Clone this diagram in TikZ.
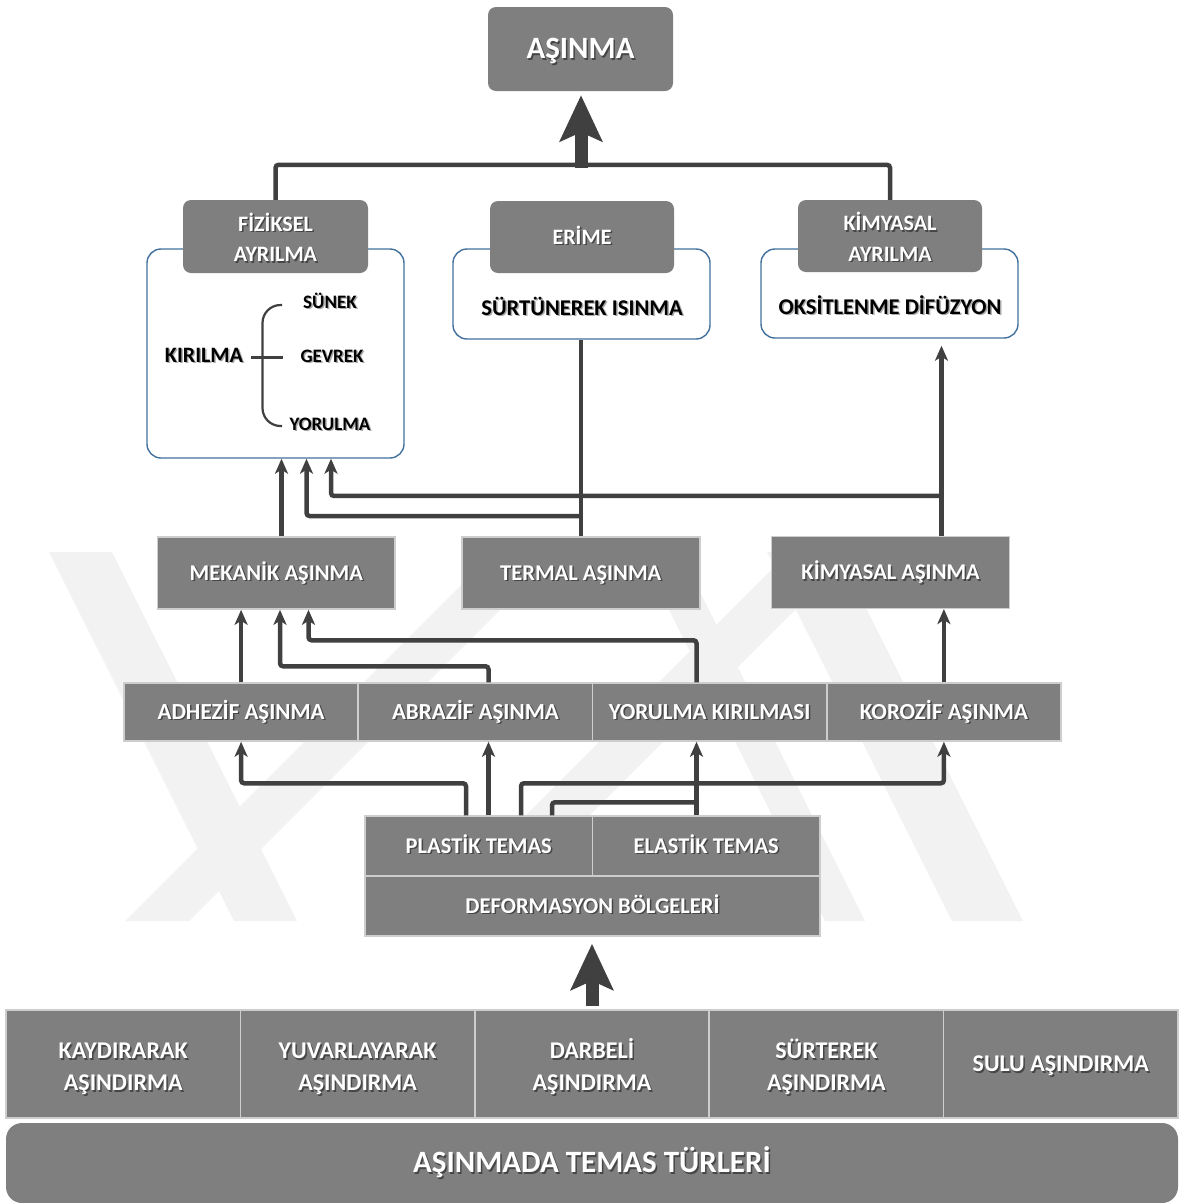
\documentclass[tikz,border=0pt]{standalone}
\usepackage{fontspec}
\setmainfont{Carlito}
\usetikzlibrary{arrows.meta,calc}

\definecolor{boxgray}{RGB}{127,127,127}
\definecolor{linegray}{RGB}{64,64,64}
\definecolor{edgegray}{RGB}{205,205,205}
\definecolor{bordblue}{RGB}{65,113,156}
\definecolor{wmgray}{RGB}{242,242,242}
\definecolor{wshadow}{RGB}{70,70,70}
\definecolor{bshadow}{RGB}{170,170,170}

% bold text at a given size and leading
\newcommand\fs[2]{\bfseries\fontsize{#1}{#2}\selectfont}
% one line of text with a small drop shadow; the line counts only its cap height
\newcommand\wsh[1]{\rule{0pt}{0.644em}\smash{\rlap{\hspace{1.5pt}\raisebox{-1.5pt}{\textcolor{wshadow}{#1}}}#1}}
\newcommand\bsh[1]{\rule{0pt}{0.644em}\smash{\rlap{\hspace{1.5pt}\raisebox{-1.5pt}{\textcolor{bshadow}{#1}}}#1}}
% first line of a two-line label, set a little lower
\newcommand\wshT[1]{\rule{0pt}{\dimexpr0.644em+6pt\relax}\smash{\rlap{\hspace{1.5pt}\raisebox{-1.5pt}{\textcolor{wshadow}{#1}}}#1}}

\begin{document}
\begin{tikzpicture}[x=1pt,y=-1pt,
  rbox/.style={fill=boxgray, draw=none, rounded corners=8pt, text=white,
    inner sep=0pt, align=center},
  fbox/.style={fill=boxgray, draw=edgegray, line width=1.5pt, text=white,
    inner sep=0pt, align=center},
  wbox/.style={fill=white, draw=bordblue, line width=1.4pt, rounded corners=14pt},
  btxt/.style={text=black, inner sep=0pt, align=center},
  conn/.style={draw=linegray, line width=4.5pt, rounded corners=3pt},
  arr/.style={conn, -{Stealth[length=15pt,width=13pt,inset=4pt]}},
  bigarr/.style={draw=linegray, line width=13pt,
    -{Stealth[length=46pt,width=42pt,inset=9pt]}},
  brk/.style={draw=linegray, line width=2.2pt},
  wm/.style={fill=wmgray, draw=none}
]
\useasboundingbox (0,0) rectangle (1184,1203);

% faint background emblem
\fill[wm] (49,552) -- (112,552) -- (297,921) -- (234,921) -- cycle;
\fill[wm] (125,921) -- (189,921) -- (558,552) -- (494,552) -- cycle;
\fill[wm] (640,552) -- (680,552) -- (865,921) -- (825,921) -- cycle;
\fill[wm] (420,921) -- (484,921) -- (853,552) -- (789,552) -- cycle;
\fill[wm] (767,552) -- (838,552) -- (1023,921) -- (952,921) -- cycle;

% ---- top level
\node[rbox, minimum width=185pt, minimum height=84pt, font=\fs{31}{36}] (asn) at (580.5,49) {\wsh{AŞINMA}};

% white detail panels
\node[wbox, minimum width=257pt, minimum height=209pt] (wl) at (275.5,353.5) {};
\node[wbox, minimum width=257pt, minimum height=90pt] (wm) at (581.5,294) {};
\node[wbox, minimum width=257pt, minimum height=89pt] (wr) at (889.5,293.5) {};

% separation mechanisms
\node[rbox, minimum width=185pt, minimum height=73pt, font=\fs{22}{30.5}] (fiz) at (275.5,236.5) {\wshT{FİZİKSEL}\\\wsh{AYRILMA}};
\node[rbox, minimum width=184pt, minimum height=72pt, font=\fs{22}{30.5}] (eri) at (582,237) {\wsh{ERİME}};
\node[rbox, minimum width=184pt, minimum height=72pt, font=\fs{22}{30.5}] (kay) at (890,236) {\wshT{KİMYASAL}\\\wsh{AYRILMA}};

\node[btxt, font=\fs{22.5}{26}] (srt) at (582,308) {\bsh{SÜRTÜNEREK ISINMA}};
\node[btxt, font=\fs{22.5}{26}] (oks) at (890,307) {\bsh{OKSİTLENME DİFÜZYON}};

% fracture types
\node[btxt, font=\fs{22}{26}] (kir) at (204,355) {\bsh{KIRILMA}};
\node[btxt, font=\fs{19}{22}] (sun) at (330,302) {\bsh{SÜNEK}};
\node[btxt, font=\fs{19}{22}] (gev) at (332,356) {\bsh{GEVREK}};
\node[btxt, font=\fs{19}{22}] (yrl) at (330,424) {\bsh{YORULMA}};
\draw[brk, rounded corners=18pt] (282,305) -- (262.5,305) -- (262.5,426) -- (282,426);
\draw[brk] (251,357.5) -- (282.5,357.5);

% ---- wear classes
\node[fbox, minimum width=237.4pt, minimum height=72.3pt, font=\fs{22.5}{26}] (mek) at (276.3,572.9) {\wsh{MEKANİK AŞINMA}};
\node[fbox, minimum width=238pt, minimum height=72.3pt, font=\fs{22.5}{26}] (ter) at (580.75,572.9) {\wsh{TERMAL AŞINMA}};
\node[fbox, minimum width=238pt, minimum height=71.6pt, font=\fs{22.5}{26}] (kma) at (890.65,572.5) {\wsh{KİMYASAL AŞINMA}};

% ---- wear mechanisms
\node[fbox, minimum width=234.25pt, minimum height=58pt, font=\fs{23}{26}] (adh) at (241.1,712) {\wsh{ADHEZİF AŞINMA}};
\node[fbox, minimum width=234.25pt, minimum height=58pt, font=\fs{23}{26}] (abr) at (475.4,712) {\wsh{ABRAZİF AŞINMA}};
\node[fbox, minimum width=234.25pt, minimum height=58pt, font=\fs{23}{26}] (yor) at (709.6,712) {\wsh{YORULMA KIRILMASI}};
\node[fbox, minimum width=234.25pt, minimum height=58pt, font=\fs{23}{26}] (kor) at (943.9,712) {\wsh{KOROZİF AŞINMA}};

% ---- deformation zones
\node[fbox, minimum width=227.5pt, minimum height=60pt, font=\fs{22.5}{26}] (pla) at (478.75,846) {\wsh{PLASTİK TEMAS}};
\node[fbox, minimum width=227.5pt, minimum height=60pt, font=\fs{22.5}{26}] (ela) at (706.25,846) {\wsh{ELASTİK TEMAS}};
\node[fbox, minimum width=455pt, minimum height=60pt, font=\fs{22.5}{26}] (def) at (592.5,906) {\wsh{DEFORMASYON BÖLGELERİ}};

% ---- contact types
\node[fbox, minimum width=234.4pt, minimum height=108pt, font=\fs{24}{32}] (kyd) at (123.2,1064) {\wshT{KAYDIRARAK}\\\wsh{AŞINDIRMA}};
\node[fbox, minimum width=234.4pt, minimum height=108pt, font=\fs{24}{32}] (yuv) at (357.6,1064) {\wshT{YUVARLAYARAK}\\\wsh{AŞINDIRMA}};
\node[fbox, minimum width=234.4pt, minimum height=108pt, font=\fs{24}{32}] (dar) at (592,1064) {\wshT{DARBELİ}\\\wsh{AŞINDIRMA}};
\node[fbox, minimum width=234.4pt, minimum height=108pt, font=\fs{24}{32}] (srk) at (826.4,1064) {\wshT{SÜRTEREK}\\\wsh{AŞINDIRMA}};
\node[fbox, minimum width=234.4pt, minimum height=108pt, font=\fs{24}{32}] (sul) at (1060.8,1064) {\wsh{SULU AŞINDIRMA}};
\node[rbox, rounded corners=16pt, minimum width=1172pt, minimum height=80pt, font=\fs{31}{36}] (tem) at (592,1163) {\wsh{AŞINMADA TEMAS TÜRLERİ}};

% ---- connector columns
\coordinate (xa) at (281.5,0);
\coordinate (xb) at (306.5,0);
\coordinate (xc) at (331,0);
\coordinate (xk) at (941.5,0);
\coordinate (xd) at (488.5,0);
\coordinate (xe) at (280,0);
\coordinate (xf) at (696.5,0);
\coordinate (xg) at (308.5,0);
\coordinate (xh) at (466,0);
\coordinate (xi) at (521,0);
\coordinate (xj) at (552,0);

% top tree
\draw[conn] (fiz.north) -- ++(0,-35) -| (kay.north);
\coordinate (hub) at (581,168);
\draw[bigarr, shorten >=4pt] (hub) -- (asn.south -| hub);

% wear classes to separation mechanisms
\draw[arr] (mek.north -| xa) -- (wl.south -| xa);
\draw[conn] (ter.north) -- (wm.south -| ter.north);
\draw[arr] (ter.north) ++(0,-20) -| (wl.south -| xb);
\draw[arr, shorten >=7pt] (kma.north -| xk) -- (wr.south -| xk);
\draw[arr] (kma.north -| xk) ++(0,-40) -| (wl.south -| xc);

% mechanisms to wear classes
\draw[arr] (adh.north) -- (mek.south -| adh.north);
\draw[arr] (abr.north -| xd) -- ++(0,-16) -| (mek.south -| xe);
\draw[arr] (yor.north -| xf) -- ++(0,-42) -| (mek.south -| xg);
\draw[arr] (kor.north) -- (kma.south -| kor.north);

% deformation zones to mechanisms
\draw[arr] (pla.north -| xh) -- ++(0,-32) -| (adh.south);
\draw[arr] (pla.north -| xd) -- (abr.south -| xd);
\draw[arr] (pla.north -| xi) -- ++(0,-32) -| (kor.south);
\draw[arr] (ela.north -| xf) -- (yor.south -| xf);
\draw[conn] (pla.north -| xj) -- ++(0,-13) -- ($(ela.north -| xf)+(0,-13)$);

% contact types to deformation zones
\draw[bigarr, shorten <=3pt, shorten >=7pt] (dar.north) -- (def.south -| dar.north);
\end{tikzpicture}
\end{document}
